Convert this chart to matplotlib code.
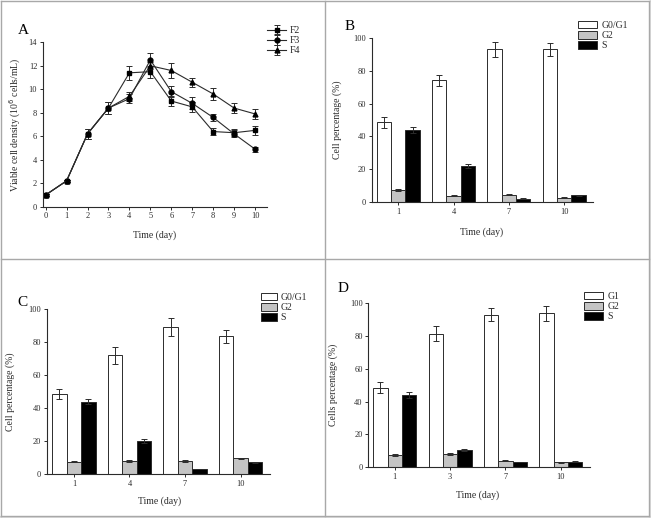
import matplotlib

matplotlib.use("Agg")
import matplotlib.pyplot as plt
import numpy as np
from matplotlib.lines import Line2D
from matplotlib.patches import Rectangle

plt.rcParams["font.family"] = ["Liberation Serif", "DejaVu Serif"]

W, H = 651, 518

# panel A: viable cell density (10^6 cells/mL) per day
days_a = [0, 1, 2, 3, 4, 5, 6, 7, 8, 9, 10]
f2 = [1.0, 2.2, 6.2, 8.4, 11.4, 11.5, 9.0, 8.5, 6.4, 6.3, 6.5]
f2_err = [0.1, 0.1, 0.4, 0.5, 0.6, 0.5, 0.4, 0.4, 0.3, 0.3, 0.4]
f3 = [1.0, 2.2, 6.2, 8.4, 9.2, 12.5, 9.8, 8.8, 7.6, 6.2, 4.9]
f3_err = [0.1, 0.1, 0.4, 0.5, 0.4, 0.6, 0.5, 0.5, 0.3, 0.3, 0.2]
f4 = [1.0, 2.2, 6.2, 8.4, 9.4, 12.0, 11.6, 10.6, 9.6, 8.4, 7.9]
f4_err = [0.1, 0.1, 0.4, 0.5, 0.4, 0.3, 0.6, 0.4, 0.5, 0.4, 0.4]

# panels B-D: cell cycle phase percentages
days_b = ["1", "4", "7", "10"]
b_g01 = [48.5, 74.0, 93.0, 93.0]
b_g01_err = [3.2, 3.6, 4.5, 4.0]
b_g2 = [7.5, 3.9, 4.7, 2.8]
b_g2_err = [0.4, 0.3, 0.3, 0.3]
b_s = [44.0, 21.8, 2.2, 4.2]
b_s_err = [1.8, 1.2, 0.3, 0.3]

days_c = ["1", "4", "7", "10"]
c_g01 = [48.5, 72.0, 89.0, 83.5]
c_g01_err = [3.2, 5.3, 5.5, 3.8]
c_g2 = [7.5, 8.0, 8.0, 9.5]
c_g2_err = [0.5, 0.5, 0.5, 0.4]
c_s = [44.0, 20.0, 3.0, 7.0]
c_s_err = [1.8, 1.0, 0.2, 0.2]

days_d = ["1", "3", "7", "10"]
d_g1 = [48.5, 81.5, 93.0, 94.0]
d_g1_err = [3.3, 4.8, 4.0, 4.6]
d_g2 = [7.5, 7.9, 3.9, 2.9]
d_g2_err = [0.5, 0.5, 0.4, 0.2]
d_s = [44.0, 10.5, 3.0, 3.2]
d_s_err = [1.8, 0.5, 0.2, 0.2]

INK = "#2b2b2b"
GRAY = "#c4c4c4"
FRAME = "#a8a8a8"


def _ax(fig, left, top, right, bottom):
    """axes from pixel box (left, top, right, bottom) in image coordinates"""
    return fig.add_axes([left / W, 1 - bottom / H, (right - left) / W, (bottom - top) / H])


def _style(ax):
    for s in ("top", "right"):
        ax.spines[s].set_visible(False)
    for s in ("left", "bottom"):
        ax.spines[s].set_color(INK)
        ax.spines[s].set_linewidth(0.8)
    ax.tick_params(direction="out", length=2.5, width=0.7, colors=INK,
                   labelsize=6, pad=1.5)
    ax.set_facecolor("none")


def _bars(ax, labels, v1, e1, v2, e2, v3, e3, names, xlim, ylab):
    x = np.arange(len(labels))
    w = 0.26
    kw = dict(edgecolor=INK, linewidth=0.7,
              error_kw=dict(ecolor=INK, elinewidth=0.7, capsize=2, capthick=0.7))
    ax.bar(x - w, v1, w, yerr=e1, color="white", label=names[0], **kw)
    ax.bar(x, v2, w, yerr=e2, color=GRAY, label=names[1], **kw)
    ax.bar(x + w, v3, w, yerr=e3, color="black", label=names[2], **kw)
    ax.set_xticks(x)
    ax.set_xticklabels(labels)
    ax.set_xlim(*xlim)
    ax.set_ylim(0, 100)
    ax.set_yticks(range(0, 101, 20))
    ax.set_ylabel(ylab, fontsize=7, color=INK)
    ax.set_xlabel("Time (day)", fontsize=7, color=INK)
    _style(ax)


fig = plt.figure(figsize=(W / 100, H / 100), dpi=100)
fig.patch.set_facecolor("white")

# ---- A
ax_a = _ax(fig, 42.7, 42.3, 267, 206.7)
ekw = dict(color=INK, linewidth=0.8, elinewidth=0.7, capsize=2, capthick=0.7,
           markersize=3.5, markerfacecolor="black", markeredgecolor="black")
ax_a.errorbar(days_a, f2, yerr=f2_err, marker="s", label="F2", **ekw)
ax_a.errorbar(days_a, f3, yerr=f3_err, marker="o", label="F3", **ekw)
ax_a.errorbar(days_a, f4, yerr=f4_err, marker="^", label="F4", **ekw)
ax_a.set_xlim(-0.14, 10.57)
ax_a.set_ylim(0, 14)
ax_a.set_xticks(days_a)
ax_a.set_yticks(range(0, 15, 2))
ax_a.set_xlabel("Time (day)", fontsize=7, color=INK)
ax_a.set_ylabel("Viable cell density (10$^6$ cells/mL)", fontsize=7, color=INK)
ax_a.xaxis.set_label_coords(0.50, -0.142)
ax_a.yaxis.set_label_coords(-0.088, 0.5)
_style(ax_a)
handles, labels = ax_a.get_legend_handles_labels()
ax_a.legend(handles, labels, loc="upper left", frameon=False, fontsize=7,
            bbox_to_anchor=(267 / W, 1 - 26 / H), bbox_transform=fig.transFigure,
            borderpad=0, borderaxespad=0, handlelength=2.0, handletextpad=0.3,
            labelspacing=0.12, labelcolor=INK)

# ---- B
ax_b = _ax(fig, 371.7, 37.7, 593, 202.3)
_bars(ax_b, days_b, b_g01, b_g01_err, b_g2, b_g2_err, b_s, b_s_err,
      ["G0/G1", "G2", "S"], (-0.48, 3.52), "Cell percentage (%)")
ax_b.xaxis.set_label_coords(0.498, -0.15)
ax_b.yaxis.set_label_coords(-0.135, 0.5)

# ---- C
ax_c = _ax(fig, 46.7, 309.3, 270, 474)
_bars(ax_c, days_c, c_g01, c_g01_err, c_g2, c_g2_err, c_s, c_s_err,
      ["G0/G1", "G2", "S"], (-0.49, 3.53), "Cell percentage (%)")
ax_c.xaxis.set_label_coords(0.507, -0.138)
ax_c.yaxis.set_label_coords(-0.142, 0.5)

# ---- D
ax_d = _ax(fig, 368.3, 303.3, 590, 467)
_bars(ax_d, days_d, d_g1, d_g1_err, d_g2, d_g2_err, d_s, d_s_err,
      ["G1", "G2", "S"], (-0.48, 3.53), "Cells percentage (%)")
ax_d.xaxis.set_label_coords(0.495, -0.14)
ax_d.yaxis.set_label_coords(-0.135, 0.5)

for ax, (lx, ly), hl in ((ax_b, (578, 21), 2.0), (ax_c, (261, 293), 1.6),
                         (ax_d, (584, 292), 2.0)):
    ax.legend(loc="upper left", frameon=False, fontsize=7,
              bbox_to_anchor=(lx / W, 1 - ly / H), bbox_transform=fig.transFigure,
              borderpad=0, borderaxespad=0, handlelength=hl, handleheight=0.8,
              handletextpad=0.4, labelspacing=0.1, labelcolor=INK)

# panel letters
for letter, (px, py) in (("A", (23, 30)), ("B", (350, 27)),
                         ("C", (22, 302)), ("D", (343, 288))):
    fig.text(px / W, 1 - py / H, letter, fontsize=11, ha="center", va="center",
             color="black")

# outer frame and dividers
for xs, ys in (([1, 649], [1, 1]), ([1, 649], [515.5, 515.5]),
               ([1, 1], [1, 515.5]), ([649, 649], [1, 515.5]),
               ([325, 325], [1, 515.5]), ([1, 649], [259, 259])):
    fig.add_artist(Line2D([x / W for x in xs], [1 - y / H for y in ys],
                          color=FRAME, linewidth=1.0, transform=fig.transFigure))
fig.add_artist(Rectangle((0, 0), 1, 2 / H, transform=fig.transFigure,
                         facecolor="#dcdcdc", edgecolor="none"))
fig.add_artist(Rectangle((650 / W, 0), 1 / W, 1, transform=fig.transFigure,
                         facecolor="#dcdcdc", edgecolor="none"))

fig.savefig("out.png", dpi=100)
plt.close(fig)
